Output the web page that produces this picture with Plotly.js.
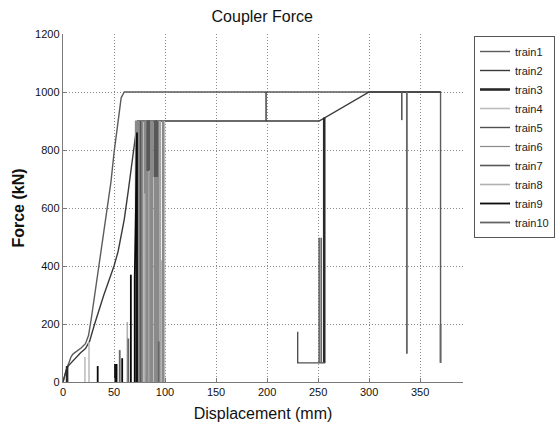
<!DOCTYPE html>
<html>
<head>
<meta charset="utf-8">
<script src="https://cdn.plot.ly/plotly-3.0.1.min.js"></script>
<style>html,body{margin:0;padding:0;background:#fff}#chart{width:558px;height:428px}</style>
</head>
<body>
<div id="chart"></div>
<script>
// ---- data ----
const seriesNames = ["train1","train2","train3","train4","train5","train6","train7","train8","train9","train10"];

const train1X = [0,2,4,6,8,10,14,18,22,25,28,31,36,40,43,47,50,54,57,60,370,370];
const train1Y = [0,30,50,68,88,97,106,118,132,160,225,300,420,510,600,690,790,900,980,1000,1000,66];

const train2X = [0,3,5,10,17,22,26,31,36,40,45,50,54,57,60,64,68,71,73,199,199,199,251,300,370];
const train2Y = [0,40,55,75,100,115,140,200,260,300,350,400,450,500,560,660,770,860,900,900,1000,900,900,1000,1000];

const train3X = [4,4,null,82,82,null,90.5,90.5,null,256,256];
const train3Y = [0,55,null,0,900,null,0,550,null,912,66];

const train4X = [21.5,21.5,null,25.5,25.5,null,99.5,99.5,null,96.6,96.6];
const train4Y = [0,86,null,0,138,null,0,900,null,0,420];

const train5X = [230,230,257,null,251,251,null,253,253,null,86.5,86.5,null,93,93];
const train5Y = [173,66,66,null,66,497,null,66,497,null,900,300,null,900,720];

const train6X = [71,71,72,72,73,73,74,74,75,75,76,76,77,77,78,78,null,
                 79.5,79.5,80.5,80.5,81.5,81.5,82.5,82.5,83.5,83.5,null,
                 85,85,86,86,87,87,88,88,null,
                 89.5,89.5,90.5,90.5,91.5,91.5,92.5,92.5,93.5,93.5,94.5,94.5,95.5,95.5,null,
                 97.5,97.5,98.5,98.5];
const train6Y = [0,900,900,0,0,900,900,0,0,900,900,0,0,900,900,0,null,
                 0,900,900,0,0,900,900,0,0,900,null,
                 0,900,900,0,0,900,900,0,null,
                 0,900,900,0,0,900,900,0,0,900,900,0,0,900,null,
                 0,900,900,0];

const train7X = [332,332,null,82.5,82.5,83.5,83.5,84.5,84.5,null,89.5,89.5,90.5,90.5,91.5,91.5,92.5,92.5,null,76,76];
const train7Y = [1000,903,null,900,730,730,900,900,730,null,900,710,710,900,900,710,710,900,null,0,900];

const train8X = [63,63,null,80,80,null,95,95];
const train8Y = [0,207,null,0,650,null,0,900];

const train9X = [34,34,null,51,51,null,52.5,52.5,null,58,58,null,66.5,66.5,null,70.3,70.3,71.5,72.5,72.5];
const train9Y = [0,55,null,0,62,null,0,62,null,0,82,null,0,370,null,0,360,600,860,0];

const train10X = [337,337,null,370,370,null,55.6,55.6,null,64,64,null,93.8,93.8];
const train10Y = [1000,97,null,197,66,null,0,110,null,0,150,null,0,140];

const xs = [train1X,train2X,train3X,train4X,train5X,train6X,train7X,train8X,train9X,train10X];
const ys = [train1Y,train2Y,train3Y,train4Y,train5Y,train6Y,train7Y,train8Y,train9Y,train10Y];

const xTicks = [0,50,100,150,200,250,300,350];
const yTicks = [0,200,400,600,800,1000,1200];

// ---- styles ----
const colors = ["#5c5c5c","#3a3a3a","#2a2a2a","#bdbdbd","#505050","#8a8a8a","#585858","#b0b0b0","#0a0a0a","#656565"];
const widths = [1.4,1.4,2.6,1.6,1.4,1.2,1.6,1.6,1.8,1.8];

const traces = seriesNames.map((n,i)=>({
  x: xs[i], y: ys[i], name: n, type:'scatter', mode:'lines',
  connectgaps:false,
  line:{color:colors[i], width:widths[i]}
}));

const font = {family:'"Liberation Sans", Arial, sans-serif', color:'#111'};

const layout = {
  width:558, height:428,
  margin:{l:63, r:95, t:34, b:46, pad:0},
  paper_bgcolor:'#fff', plot_bgcolor:'#fff',
  font:{...font, size:11},
  title:{text:'Coupler Force', font:{...font, size:16}, x:0.47, xanchor:'center', y:0.962, yanchor:'middle'},
  xaxis:{
    range:[0,392], tickvals:xTicks, ticktext:xTicks.map(String),
    showgrid:true, gridcolor:'#8a8a8a', griddash:'1px,2px', gridwidth:1,
    showline:true, linecolor:'#7a7a7a', linewidth:1.2, zeroline:false,
    ticks:'inside', ticklen:4, tickcolor:'#7a7a7a',
    tickfont:{...font, size:11},
    title:{text:'Displacement (mm)', font:{...font, size:16}, standoff:10}
  },
  yaxis:{
    range:[0,1200], tickvals:yTicks, ticktext:yTicks.map(String),
    showgrid:true, gridcolor:'#8a8a8a', griddash:'1px,2px', gridwidth:1,
    showline:true, linecolor:'#7a7a7a', linewidth:1.2, zeroline:false,
    ticks:'inside', ticklen:4, tickcolor:'#7a7a7a',
    tickfont:{...font, size:11},
    title:{text:'<b>Force (kN)</b>', font:{...font, size:16}, standoff:6}
  },
  showlegend:true,
  legend:{xref:'container', yref:'container', x:474/558, xanchor:'left', y:1-36/428, yanchor:'top',
    bgcolor:'#fff', bordercolor:'#555', borderwidth:1,
    font:{...font, size:11, color:'#222'}, tracegroupgap:0}
};

Plotly.newPlot('chart', traces, layout, {displayModeBar:false, staticPlot:true});
</script>
</body>
</html>
